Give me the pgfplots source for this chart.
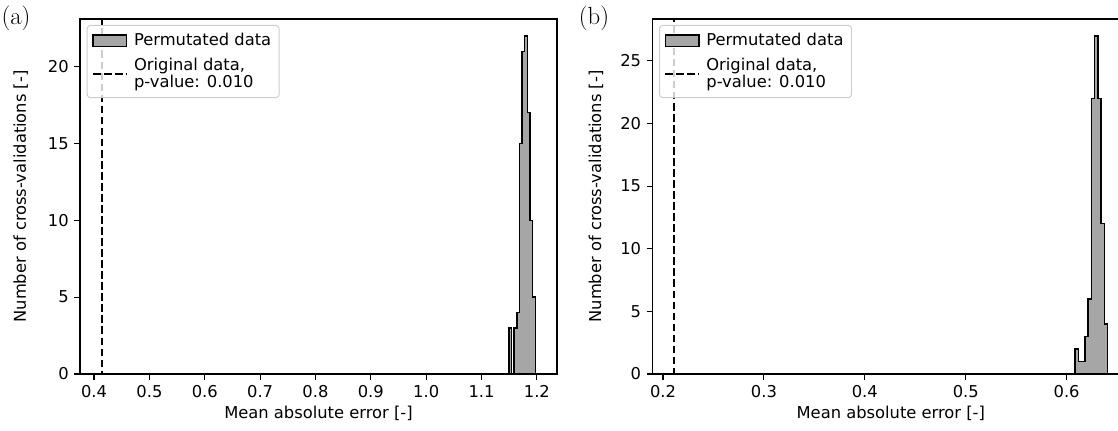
\documentclass[border=0pt]{standalone}
\usepackage{pgfplots}
\pgfplotsset{compat=1.18}
\usepackage{fontspec}
\newfontfamily\dejavu{DejaVu Sans}
\definecolor{histgray}{RGB}{166,166,166}
\definecolor{legframe}{RGB}{204,204,204}
\newcommand{\fs}{\dejavu\fontsize{10.2}{12}\selectfont}
\pgfplotsset{
  myax/.style={
    scale only axis, width=298.1pt, height=221.9pt,
    ymin=0,
    axis line style={line width=0.7pt},
    tick style={line width=0.7pt, black},
    tick align=outside, xtick pos=left, ytick pos=left,
    major tick length=3.5pt,
    tick label style={font=\fs},
    /pgf/number format/assume math mode=true,
    label style={font=\fs},
    xlabel={Mean absolute error [-]},
    ylabel={Number of cross-validations [-]},
    xlabel style={at={(axis description cs:0.5,-0.112)}, anchor=center},
    x tick label style={/pgf/number format/.cd, fixed, fixed zerofill, precision=1, /tikz/.cd},
    legend cell align=left,
    legend style={at={(axis description cs:0,1)}, anchor=north west, xshift=4.2pt, yshift=-3.75pt,
      draw=legframe, line width=0.6pt, rounded corners=2pt, fill=white, fill opacity=0.8, text opacity=1,
      font=\dejavu\fontsize{10.2}{10.6}\selectfont, cells={anchor=west, align=left},
      inner xsep=3pt, inner ysep=3pt, row sep=2pt, column sep=2pt},
  },
  histst/.style={const plot, fill=histgray, draw=black, line width=0.87pt,
    legend image code/.code={\draw[fill=histgray, draw=black, line width=0.87pt, opacity=1, sharp corners] (0pt,-3.6pt) rectangle (21pt,3.6pt);}},
  dashst/.style={black, line width=1.3pt, dash pattern=on 4.8pt off 2.1pt,
    legend image code/.code={\draw[black, line width=1.3pt, dash pattern=on 4.8pt off 2.1pt, opacity=1, sharp corners] (0pt,0pt) -- (21pt,0pt);}},
}
\begin{document}
\begin{tikzpicture}
\begin{axis}[myax, at={(0pt,0pt)}, anchor=south west,
  xmin=0.3746, xmax=1.2363, ymax=23.1,
  xtick={0.4,0.5,0.6,0.7,0.8,0.9,1.0,1.1,1.2},
  ytick={0,5,10,15,20},
  ylabel style={at={(axis description cs:-0.124,0.5)}, anchor=center},
]
\addplot[histst] coordinates {
(1.1495,0) (1.1495,3) (1.15426,0) (1.15902,3) (1.16378,4) (1.16854,15)
(1.1733,21) (1.17806,22) (1.18282,17) (1.18758,10) (1.19234,5) (1.1971,0)
} \closedcycle;
\addlegendentry{Permutated data}
\addplot[dashst] coordinates {(0.4138,-1) (0.4138,30)};
\addlegendentry{Original data,\\p-value: 0.010}
\end{axis}
\node[font=\fontsize{15.5}{17}\selectfont] at (-40pt,222.5pt) {(a)};

\begin{axis}[myax, at={(357.7pt,0pt)}, anchor=south west,
  xmin=0.1894, xmax=0.6621, ymax=28.35,
  xtick={0.2,0.3,0.4,0.5,0.6},
  ytick={0,5,10,15,20,25},
  ylabel style={at={(axis description cs:-0.118,0.5)}, anchor=center},
]
\addplot[histst] coordinates {
(0.6084,0) (0.6084,2) (0.61162,1) (0.61484,1) (0.61806,3) (0.62128,6)
(0.6245,22) (0.62772,27) (0.63094,22) (0.63416,12) (0.63738,4) (0.6406,0)
} \closedcycle;
\addlegendentry{Permutated data}
\addplot[dashst] coordinates {(0.2109,-1) (0.2109,40)};
\addlegendentry{Original data,\\p-value: 0.010}
\end{axis}
\node[font=\fontsize{15.5}{17}\selectfont] at (321.3pt,222.5pt) {(b)};

\pgfresetboundingbox
\path[use as bounding box] (-50pt,-35pt) rectangle (648.75pt,233.75pt);
\end{tikzpicture}
\end{document}
